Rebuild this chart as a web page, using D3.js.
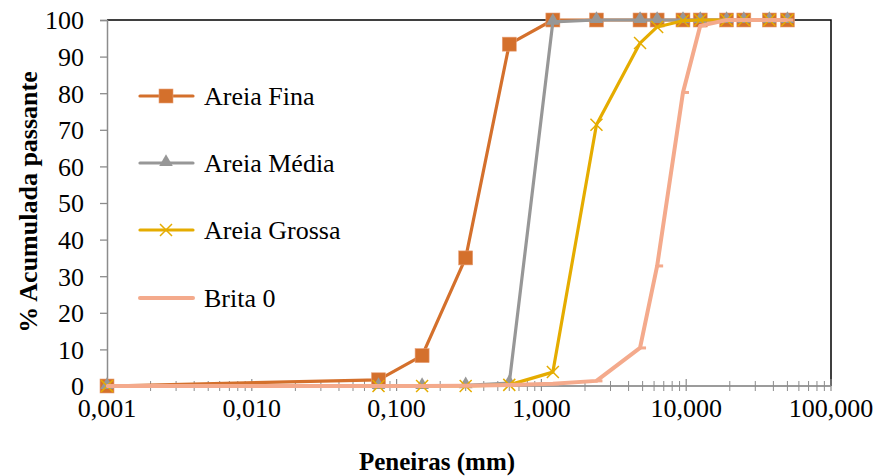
<!DOCTYPE html>
<html>
<head>
<meta charset="utf-8">
<script src="https://cdn.jsdelivr.net/npm/d3@7"></script>
<style>
  body { margin: 0; background: #fff; }
  text { font-family: "Liberation Serif", "Times New Roman", serif; }
</style>
</head>
<body>
<svg id="chart" width="877" height="476"></svg>
<script>
// sieve openings (mm)
const sieves = [0.001, 0.075, 0.15, 0.3, 0.6, 1.2, 2.4, 4.8, 6.3, 9.5, 12.5, 19, 25, 37.5, 50];

const areiaFina   = [0, 1.7, 8.3, 35, 93.4, 100, 100, 100, 100, 100, 100, 100, 100, 100, 100];
const areiaMedia  = [0, 0, 0, 0.2, 0.8, 99.5, 100, 100, 100, 100, 100, 100, 100, 100, 100];
const areiaGrossa = [0, 0, 0, 0, 0.3, 3.8, 71.4, 93.7, 98.1, 99.8, 100, 100, 100, 100, 100];
const brita0      = [0, 0, 0, 0.1, 0.3, 0.6, 1.4, 10.4, 32.8, 80.2, 98.4, 100, 100, 100, 100];

const xTickValues = [0.001, 0.01, 0.1, 1, 10, 100];
const yTickValues = [0, 10, 20, 30, 40, 50, 60, 70, 80, 90, 100];

const seriesList = [
  { name: "Areia Fina",   values: areiaFina,   color: "#D4702C", marker: "square" },
  { name: "Areia Média",  values: areiaMedia,  color: "#979797", marker: "triangle" },
  { name: "Areia Grossa", values: areiaGrossa, color: "#E5AC00", marker: "cross" },
  { name: "Brita 0",      values: brita0,      color: "#F4AA8C", marker: "dash" }
];

const svg = d3.select("#chart");
const pLeft = 107, pRight = 831, pTop = 20, pBottom = 386;
const fs = 26;

const x = d3.scaleLog().domain([0.001, 100]).range([pLeft, pRight]);
const y = d3.scaleLinear().domain([0, 100]).range([pBottom, pTop]);

// top and right border of plot area
svg.append("path")
  .attr("d", `M${pLeft},${pTop}H${pRight}V${pBottom}`)
  .attr("fill", "none")
  .attr("stroke", "#000")
  .attr("stroke-width", 1.5);

// y axis
const yAxis = svg.append("g")
  .attr("transform", `translate(${pLeft},0)`)
  .call(d3.axisLeft(y).tickValues(yTickValues).tickSize(7).tickPadding(16));
yAxis.select(".domain").attr("stroke", "#8c8c8c").attr("stroke-width", 1.5);
yAxis.selectAll(".tick line").attr("stroke", "#8c8c8c").attr("stroke-width", 1.3);
yAxis.selectAll(".tick text")
  .attr("font-size", fs)
  .attr("dy", "0.34em")
  .attr("fill", "#000");

// x axis: minor ticks crossing the line
const minor = [];
for (let e = -3; e < 2; e++) {
  for (let m = 2; m <= 9; m++) minor.push(m * Math.pow(10, e));
}
const xg = svg.append("g");
xg.append("line")
  .attr("x1", pLeft).attr("x2", pRight)
  .attr("y1", pBottom).attr("y2", pBottom)
  .attr("stroke", "#7a7a7a").attr("stroke-width", 1.5);
xg.selectAll(".minor")
  .data(minor)
  .join("line")
  .attr("class", "minor")
  .attr("x1", d => x(d)).attr("x2", d => x(d))
  .attr("y1", pBottom - 5).attr("y2", pBottom + 5)
  .attr("stroke", "#8c8c8c").attr("stroke-width", 1);
xg.selectAll(".major")
  .data(xTickValues)
  .join("line")
  .attr("class", "major")
  .attr("x1", d => x(d)).attr("x2", d => x(d))
  .attr("y1", pBottom - 7).attr("y2", pBottom + 5)
  .attr("stroke", "#8c8c8c").attr("stroke-width", 1.2);
xg.selectAll(".lbl")
  .data(xTickValues)
  .join("text")
  .attr("class", "lbl")
  .attr("x", d => x(d))
  .attr("y", 417)
  .attr("text-anchor", "middle")
  .attr("font-size", fs)
  .text(d => d3.format(".3f")(d).replace(".", ","));

// axis titles
svg.append("text")
  .attr("x", 437).attr("y", 470)
  .attr("text-anchor", "middle")
  .attr("font-size", 25)
  .attr("font-weight", "bold")
  .text("Peneiras (mm)");
svg.append("text")
  .attr("transform", "translate(37,202) rotate(-90)")
  .attr("text-anchor", "middle")
  .attr("font-size", 26)
  .attr("font-weight", "bold")
  .text("% Acumulada passante");

const line = d3.line().x(d => x(d[0])).y(d => y(d[1]));

function drawMarker(g, type, color) {
  if (type === "square") {
    g.append("rect").attr("x", -7).attr("y", -7).attr("width", 14).attr("height", 14)
      .attr("fill", color).attr("stroke", "#e8a078").attr("stroke-width", 0.6);
  } else if (type === "triangle") {
    g.append("path").attr("d", d3.symbol(d3.symbolTriangle, 80)())
      .attr("transform", "translate(0,-1)")
      .attr("fill", color);
  } else if (type === "cross") {
    g.append("path").attr("d", "M-6,-6L6,6M-6,6L6,-6")
      .attr("stroke", color).attr("stroke-width", 1.5);
  } else if (type === "dash") {
    g.append("path").attr("d", "M-1,0H6")
      .attr("stroke", color).attr("stroke-width", 3);
  }
}

seriesList.forEach(s => {
  const pts = sieves.map((v, i) => [v, s.values[i]]);
  const g = svg.append("g");
  g.append("path")
    .attr("d", line(pts))
    .attr("fill", "none")
    .attr("stroke", s.color)
    .attr("stroke-width", s.marker === "dash" ? 4 : 3.2)
    .attr("stroke-linejoin", "round");
  g.selectAll(".pt")
    .data(pts)
    .join("g")
    .attr("class", "pt")
    .attr("transform", d => `translate(${x(d[0])},${y(d[1])})`)
    .each(function() { drawMarker(d3.select(this), s.marker, s.color); });
});

// legend
const legendY = [96, 163, 230, 298];
seriesList.forEach((s, i) => {
  const lg = svg.append("g").attr("transform", `translate(0,${legendY[i]})`);
  lg.append("line")
    .attr("x1", 140).attr("x2", 193)
    .attr("stroke", s.color)
    .attr("stroke-width", s.marker === "dash" ? 4 : 3.2)
    .attr("stroke-linecap", "round");
  if (s.marker !== "dash") {
    const mg = lg.append("g").attr("transform", "translate(166,0)");
    drawMarker(mg, s.marker, s.color);
  }
  lg.append("text")
    .attr("x", 204).attr("y", 9)
    .attr("font-size", fs)
    .text(s.name);
});
</script>
</body>
</html>
